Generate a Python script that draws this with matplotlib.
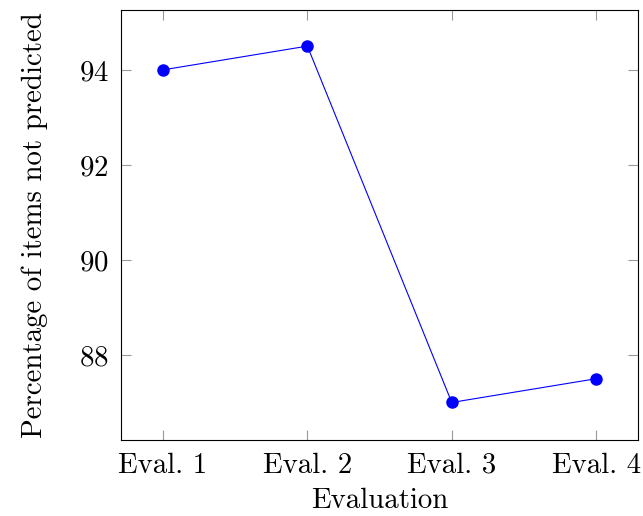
import matplotlib.pyplot as plt

plt.rcParams['font.family'] = 'serif'
plt.rcParams['font.serif'] = ['cmr10']
plt.rcParams['mathtext.fontset'] = 'cm'
plt.rcParams['axes.formatter.use_mathtext'] = True

# Evaluation runs and share of items left unpredicted (%)
evals = [1, 2, 3, 4]
eval_labels = ['Eval. 1', 'Eval. 2', 'Eval. 3', 'Eval. 4']
not_predicted = [94.0, 94.5, 87.0, 87.5]

fig = plt.figure(figsize=(6.43, 5.16), dpi=100)
ax = fig.add_axes([121 / 643, 1 - 440 / 516, 517 / 643, 430 / 516])

ax.plot(evals, not_predicted, color='blue', linewidth=0.8,
        marker='o', markersize=8, markerfacecolor='blue', markeredgecolor='blue')

ax.set_xlim(0.709, 4.29)
ax.set_ylim(86.21, 95.26)
ax.set_xticks(evals)
ax.set_xticklabels(eval_labels)
ax.set_yticks([88, 90, 92, 94])

ax.tick_params(direction='in', length=7, width=0.8, color='#999999',
               labelsize=20.8, top=True, right=True, pad=9)
for s in ax.spines.values():
    s.set_linewidth(0.8)

ax.set_xlabel('Evaluation', fontsize=20.8, labelpad=6)
ax.set_ylabel('Percentage of items not predicted', fontsize=20.8, labelpad=22)

fig.savefig('out.png', dpi=100)
